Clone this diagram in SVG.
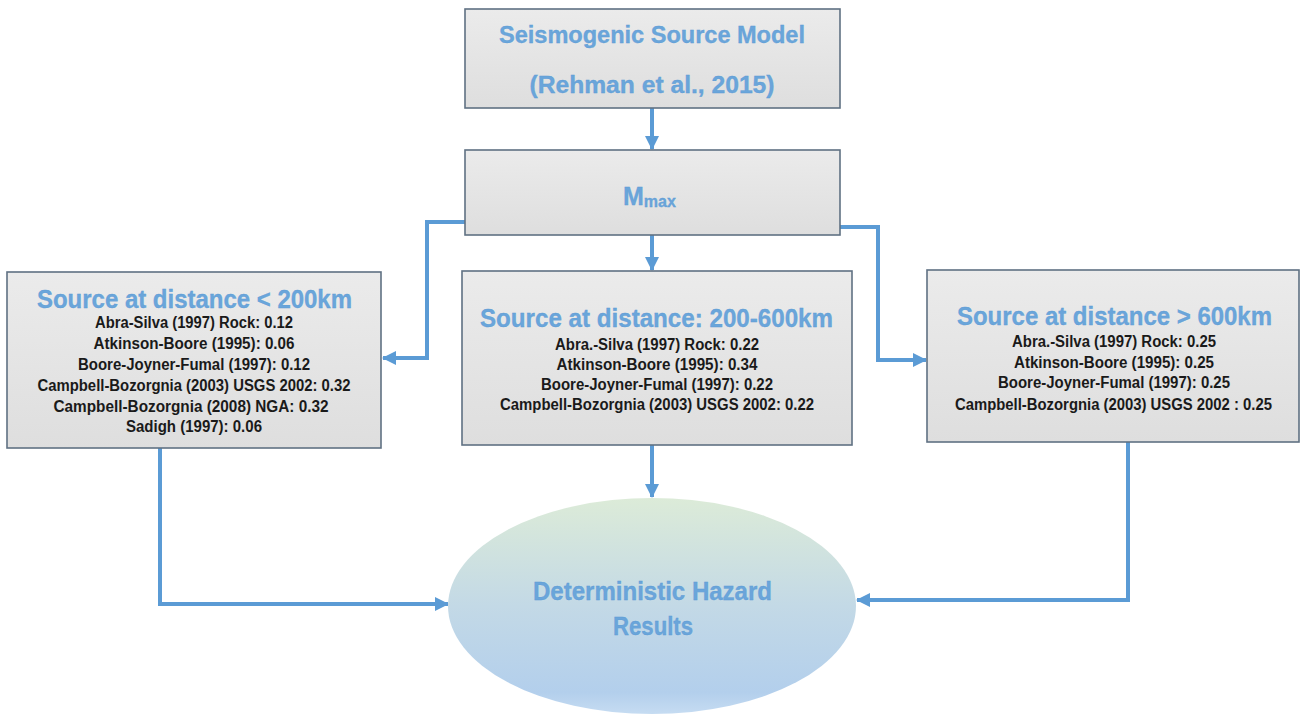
<svg xmlns="http://www.w3.org/2000/svg" width="1301" height="716" viewBox="0 0 1301 716">
<style>
.box{fill:url(#boxg);stroke:#5f7183;stroke-width:1.6}
.title{font-family:"Liberation Sans","Open Sans",sans-serif;font-weight:700;fill:#6aa5da;stroke:#5b9bd5;stroke-width:0.3;text-anchor:middle}
.item{font-family:"Liberation Sans","Open Sans",sans-serif;font-weight:700;font-size:16px;fill:#1a1a1a;text-anchor:middle}
.conn{fill:none;stroke:#5b9bd5;stroke-width:4}
</style>
<defs>
<linearGradient id="boxg" x1="0" y1="0" x2="0" y2="1">
<stop offset="0" stop-color="#ebebeb"/>
<stop offset="1" stop-color="#dedede"/>
</linearGradient>
<linearGradient id="ellg" x1="0" y1="0" x2="0" y2="1">
<stop offset="0" stop-color="#dcebd8"/>
<stop offset="0.5" stop-color="#c3d9e6"/>
<stop offset="0.9" stop-color="#b3cfec"/>
<stop offset="1" stop-color="#c6dcf2"/>
</linearGradient>
<marker id="arr" markerUnits="userSpaceOnUse" markerWidth="14" markerHeight="14" refX="13" refY="7" orient="auto">
<path d="M0,0 L14,7 L0,14 z" fill="#5b9bd5"/>
</marker>
</defs>

<g id="connectors">
<path class="conn" d="M652,108 V149" marker-end="url(#arr)"/>
<path class="conn" d="M652,235 V270" marker-end="url(#arr)"/>
<path class="conn" d="M652,445 V497" marker-end="url(#arr)"/>
<path class="conn" d="M465,222 H427 V358 H383" marker-end="url(#arr)"/>
<path class="conn" d="M840,227 H878 V360 H926" marker-end="url(#arr)"/>
<path class="conn" d="M160,448 V604 H448" marker-end="url(#arr)"/>
<path class="conn" d="M1128,442 V600 H857" marker-end="url(#arr)"/>
</g>

<g id="source-model">
<rect class="box" x="465" y="9" width="375" height="99"/>
<text class="title" x="652" y="43" font-size="23" textLength="306" lengthAdjust="spacingAndGlyphs">Seismogenic Source Model</text>
<text class="title" x="652" y="93" font-size="23" textLength="245" lengthAdjust="spacingAndGlyphs">(Rehman et al., 2015)</text>
</g>

<g id="mmax">
<rect class="box" x="465" y="150" width="375" height="85"/>
<text class="title" x="623" y="205" font-size="25" style="text-anchor:start">M<tspan font-size="16" dy="2">max</tspan></text>
</g>

<g id="near">
<rect class="box" x="7" y="272" width="374" height="176"/>
<text class="title" x="194.5" y="308" font-size="26" textLength="315" lengthAdjust="spacingAndGlyphs">Source at distance &lt; 200km</text>
<text class="item" x="194" y="328" textLength="198" lengthAdjust="spacingAndGlyphs">Abra-Silva (1997) Rock: 0.12</text>
<text class="item" x="194" y="349" textLength="201" lengthAdjust="spacingAndGlyphs">Atkinson-Boore (1995): 0.06</text>
<text class="item" x="194" y="370" textLength="232" lengthAdjust="spacingAndGlyphs">Boore-Joyner-Fumal (1997): 0.12</text>
<text class="item" x="194" y="391" textLength="313" lengthAdjust="spacingAndGlyphs">Campbell-Bozorgnia (2003) USGS 2002: 0.32</text>
<text class="item" x="191" y="412" textLength="275" lengthAdjust="spacingAndGlyphs">Campbell-Bozorgnia (2008) NGA: 0.32</text>
<text class="item" x="194" y="432" textLength="136" lengthAdjust="spacingAndGlyphs">Sadigh (1997): 0.06</text>
</g>

<g id="mid">
<rect class="box" x="462" y="271" width="390" height="174"/>
<text class="title" x="656.5" y="327" font-size="26" textLength="353" lengthAdjust="spacingAndGlyphs">Source at distance: 200-600km</text>
<text class="item" x="657" y="350" textLength="204" lengthAdjust="spacingAndGlyphs">Abra.-Silva (1997) Rock: 0.22</text>
<text class="item" x="657" y="370" textLength="201" lengthAdjust="spacingAndGlyphs">Atkinson-Boore (1995): 0.34</text>
<text class="item" x="657" y="390" textLength="232" lengthAdjust="spacingAndGlyphs">Boore-Joyner-Fumal (1997): 0.22</text>
<text class="item" x="657" y="410" textLength="314" lengthAdjust="spacingAndGlyphs">Campbell-Bozorgnia (2003) USGS 2002: 0.22</text>
</g>

<g id="far">
<rect class="box" x="927" y="270" width="372" height="172"/>
<text class="title" x="1114.5" y="325" font-size="25" textLength="315" lengthAdjust="spacingAndGlyphs">Source at distance &gt; 600km</text>
<text class="item" x="1114" y="347" textLength="204" lengthAdjust="spacingAndGlyphs">Abra.-Silva (1997) Rock: 0.25</text>
<text class="item" x="1114" y="368" textLength="200" lengthAdjust="spacingAndGlyphs">Atkinson-Boore (1995): 0.25</text>
<text class="item" x="1114" y="388" textLength="232" lengthAdjust="spacingAndGlyphs">Boore-Joyner-Fumal (1997): 0.25</text>
<text class="item" x="1113.5" y="410" textLength="317" lengthAdjust="spacingAndGlyphs">Campbell-Bozorgnia (2003) USGS 2002 : 0.25</text>
</g>

<g id="results">
<ellipse cx="652" cy="606" rx="204" ry="108" fill="url(#ellg)"/>
<text class="title" x="652.5" y="600" font-size="25" textLength="239" lengthAdjust="spacingAndGlyphs">Deterministic Hazard</text>
<text class="title" x="653" y="635" font-size="25" textLength="80" lengthAdjust="spacingAndGlyphs">Results</text>
</g>
</svg>
